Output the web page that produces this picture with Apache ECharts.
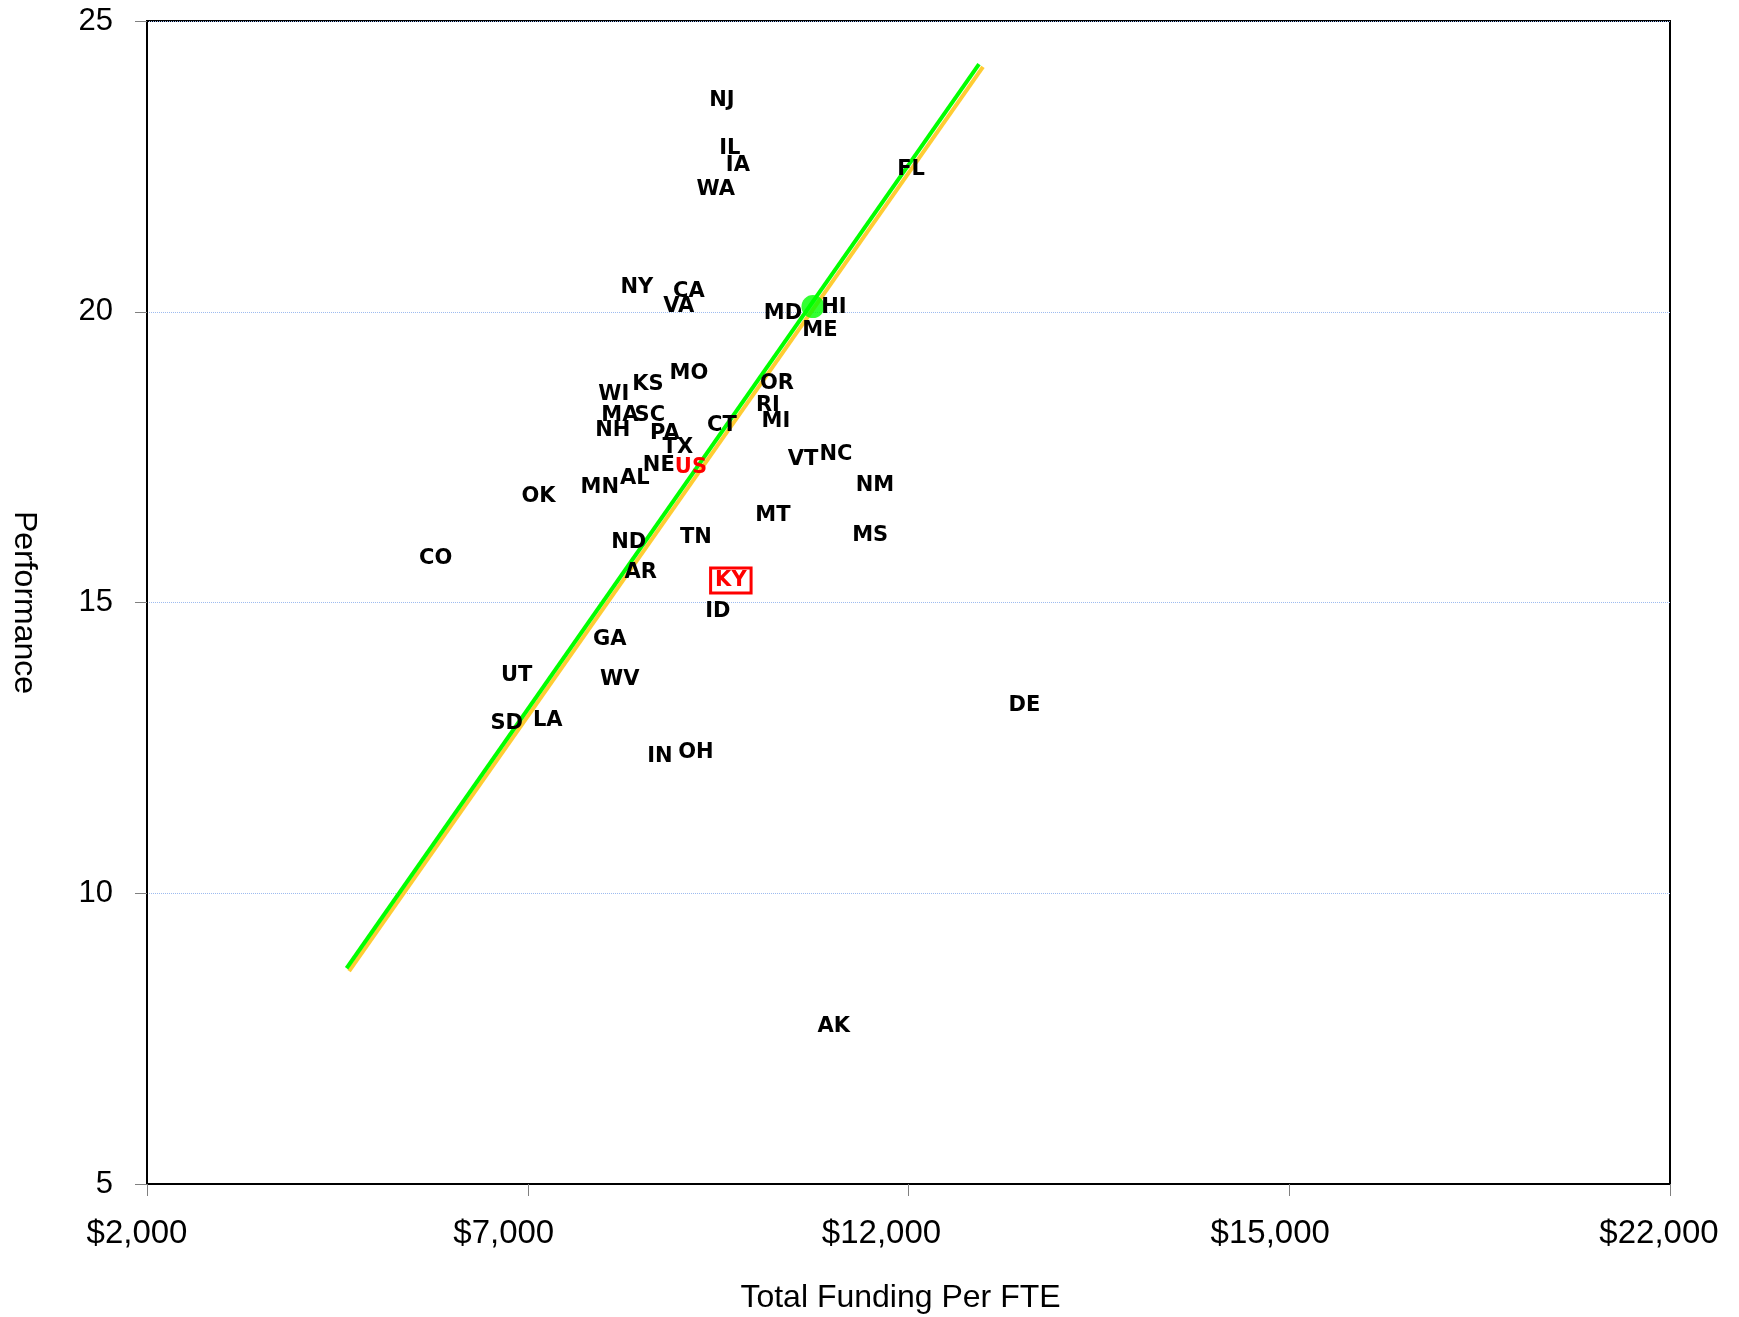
<!DOCTYPE html>
<html>
<head>
<meta charset="utf-8">
<script src="https://cdn.jsdelivr.net/npm/echarts@6/dist/echarts.min.js"></script>
<style>
html,body{margin:0;padding:0;background:#fff;}
#chart{width:1739px;height:1317px;}
</style>
</head>
<body>
<div id="chart"></div>
<script>
// ---- data ----
var states = ['NJ','IL','IA','WA','FL','NY','CA','VA','MD','HI','ME','MO','OR','KS','WI','RI','MA','SC','MI','CT','NH','PA','TX','VT','NC','NE','US','AL','NM','MN','OK','MT','MS','TN','ND','CO','AR','KY','ID','GA','UT','WV','DE','SD','LA','IN','OH','AK'];
var funding = [9549,9654,9759,9470,12033,8432,9116,8984,10351,11021,10837,9116,10272,8577,8130,10154,8209,8603,10259,9549,8117,8800,8971,10614,11047,8721,9143,8406,11560,7946,7142,10219,11497,9208,8327,5791,8485,9667,9497,8078,6855,8209,13522,6724,7263,8735,9208,11017];
var performance = [23.64,22.80,22.51,22.11,22.44,20.41,20.34,20.09,19.97,20.07,19.67,18.93,18.76,18.75,18.57,18.38,18.21,18.21,18.11,18.04,17.96,17.90,17.66,17.46,17.54,17.35,17.32,17.13,17.01,16.98,16.82,16.49,16.15,16.12,16.03,15.76,15.52,15.38,14.85,14.36,13.75,13.68,13.22,12.92,12.97,12.35,12.42,7.71];
var trendGreen = [[4621, 8.71], [12926, 24.26]];
var trendYellow = [[4654, 8.66], [12978, 24.21]];
var highlightPoint = [[10745, 20.09]];
var xTickLabels = ['$2,000', '$7,000', '$12,000', '$15,000', '$22,000'];
var yTicks = [5, 10, 15, 20, 25];

// ---- chart ----
var labelFont = 'DejaVu Sans';
var axisFont = 'Liberation Sans, Arial, sans-serif';
var xShift = [10, 24, 27, 19, 11];

var stateData = states.map(function (s, i) {
  var item = { name: s, value: [funding[i], performance[i]] };
  if (s === 'US') {
    item.label = { color: '#FF0000' };
  } else if (s === 'KY') {
    item.label = {
      color: '#FF0000',
      borderColor: '#FF0000',
      borderWidth: 3,
      backgroundColor: '#FFFFFF',
      padding: [1, 3, 0, 3],
      lineHeight: 21
    };
  }
  return item;
});

var richX = {};
xShift.forEach(function (s, i) {
  richX['t' + i] = {
    fontFamily: axisFont, fontSize: 33, color: '#000',
    padding: [0, 2 * s, 0, 0]
  };
});

var chart = echarts.init(document.getElementById('chart'), null, { renderer: 'canvas' });
chart.setOption({
  animation: false,
  backgroundColor: '#FFFFFF',
  grid: {
    left: 147, right: 69, top: 21, bottom: 133,
    containLabel: false,
    outerBoundsMode: 'none',
    show: true, borderColor: '#000', borderWidth: 2, backgroundColor: 'transparent'
  },
  xAxis: {
    type: 'value',
    min: 2000, max: 22000, interval: 5000,
    name: 'Total Funding Per FTE',
    nameLocation: 'middle',
    nameGap: 98,
    nameTextStyle: { fontFamily: axisFont, fontSize: 32, color: '#000', padding: [0, 16, 0, 0] },
    axisLine: { show: true, onZero: false, lineStyle: { color: '#000', width: 2 } },
    axisTick: { show: true, length: 12, lineStyle: { color: '#808080', width: 1 } },
    axisLabel: {
      margin: 33,
      fontFamily: axisFont, fontSize: 33, color: '#000',
      formatter: function (v) {
        var i = Math.round((v - 2000) / 5000);
        return '{t' + i + '|' + xTickLabels[i] + '}';
      },
      rich: richX
    },
    splitLine: { show: false }
  },
  yAxis: {
    type: 'value',
    min: yTicks[0], max: yTicks[yTicks.length - 1], interval: 5,
    name: 'Performance',
    nameLocation: 'middle',
    nameRotate: -90,
    nameGap: 107,
    nameTextStyle: { fontFamily: axisFont, fontSize: 32, color: '#000' },
    axisLine: { show: true, onZero: false, lineStyle: { color: '#000', width: 2 } },
    axisTick: { show: true, length: 12, lineStyle: { color: '#808080', width: 1 } },
    axisLabel: { margin: 34, fontFamily: axisFont, fontSize: 31, color: '#000' },
    splitLine: { show: true, lineStyle: { color: '#9DBBEF', width: 1, type: 'dotted' } }
  },
  series: [
    {
      type: 'line', data: trendYellow, showSymbol: false, symbol: 'none',
      lineStyle: { color: '#FFCC33', width: 4 }, z: 2, silent: true
    },
    {
      type: 'line', data: trendGreen, showSymbol: false, symbol: 'none',
      lineStyle: { color: '#00FF00', width: 4 }, z: 3, silent: true
    },
    {
      type: 'scatter', data: highlightPoint, symbol: 'circle', symbolSize: 23,
      itemStyle: { color: '#00FF00' }, z: 4, silent: true
    },
    {
      type: 'scatter', data: stateData, symbol: 'circle', symbolSize: 1,
      itemStyle: { color: 'rgba(0,0,0,0)' }, z: 5, silent: true,
      label: {
        show: true, position: 'inside', offset: [0, 2],
        formatter: function (p) { return p.name; },
        fontFamily: labelFont, fontWeight: 'bold', fontSize: 21, color: '#000',
        textBorderWidth: 0, textBorderColor: 'transparent', opacity: 1
      },
      labelLayout: { hideOverlap: false }
    }
  ]
});
</script>
</body>
</html>
